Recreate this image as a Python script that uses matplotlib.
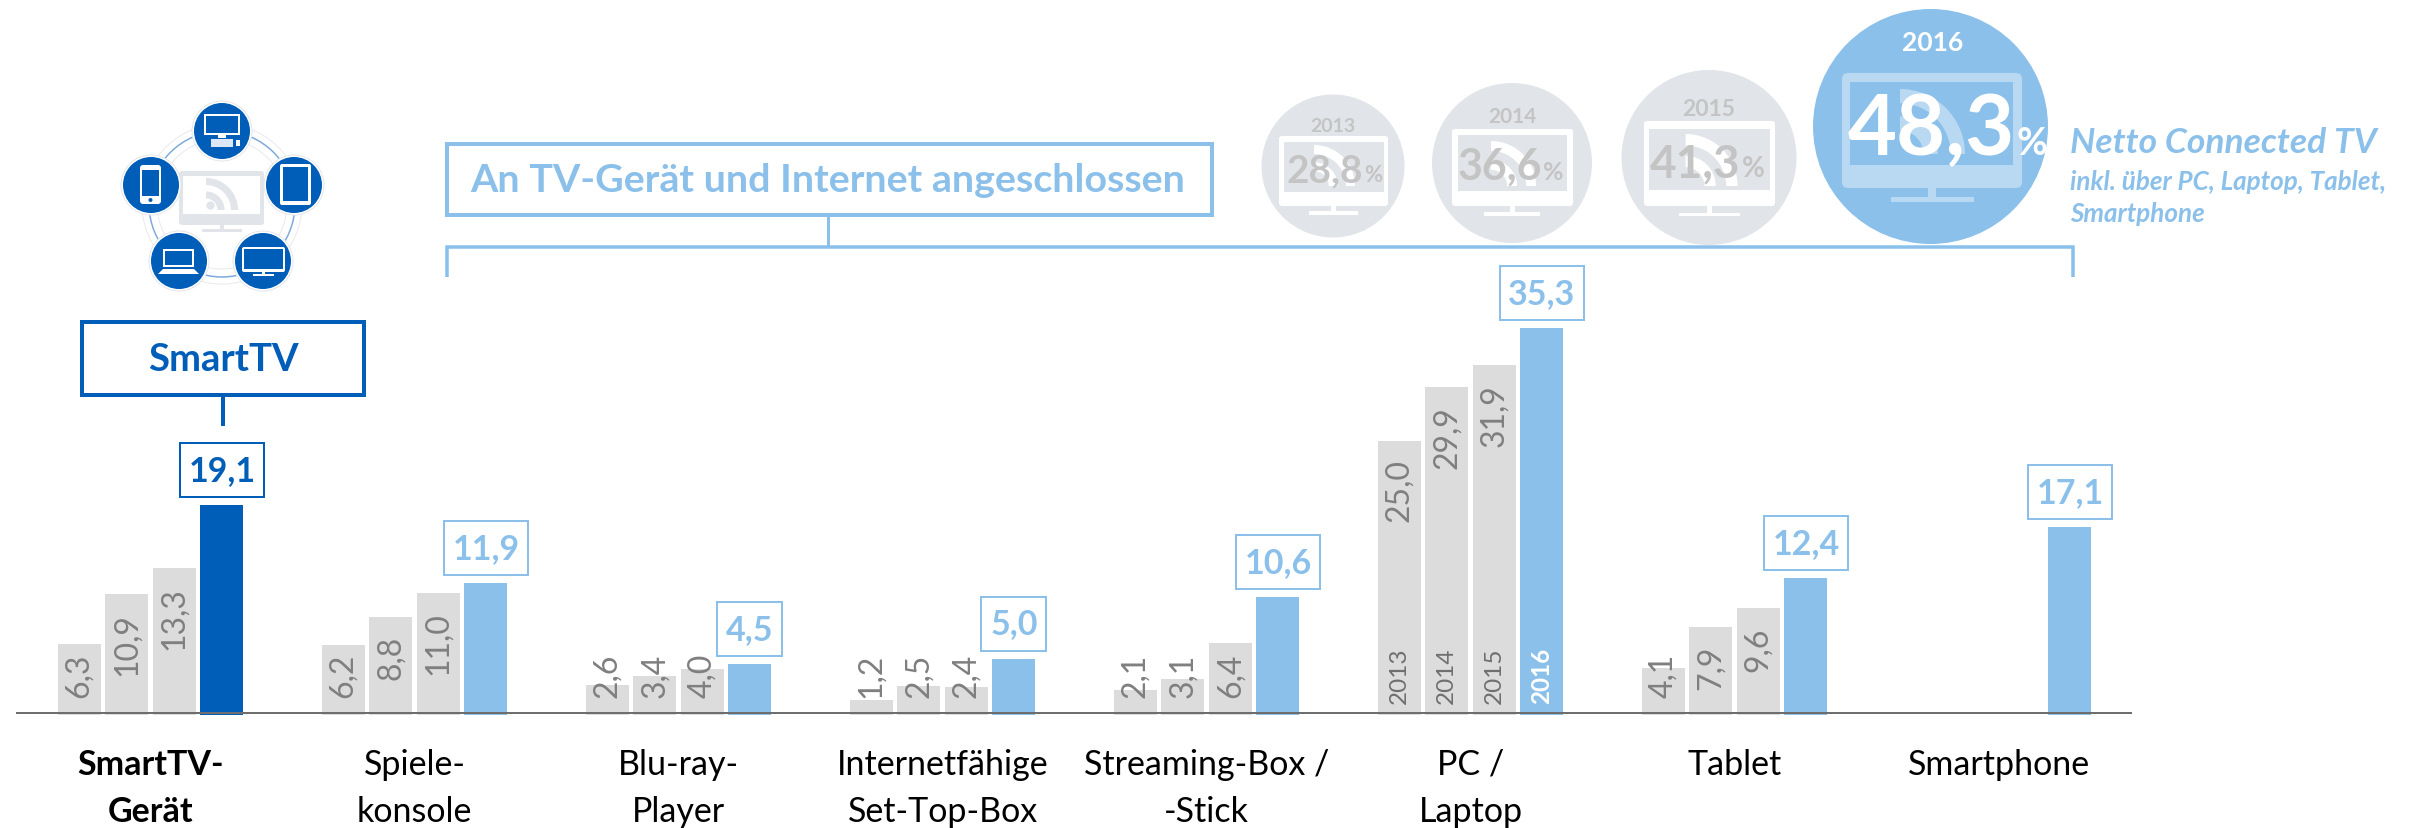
import numpy as np
import matplotlib
matplotlib.use("Agg")
import matplotlib.pyplot as plt
from matplotlib.patches import Rectangle, Circle, Wedge, FancyBboxPatch

plt.rcParams["font.family"] = ["Lato", "DejaVu Sans"]

categories = ["SmartTV-\nGerät", "Spiele-\nkonsole", "Blu-ray-\nPlayer",
              "Internetfähige\nSet-Top-Box", "Streaming-Box /\n-Stick",
              "PC /\nLaptop", "Tablet", "Smartphone"]
v2013 = [6.3, 6.2, 2.6, 1.2, 2.1, 25.0, 4.1, np.nan]
v2014 = [10.9, 8.8, 3.4, 2.5, 3.1, 29.9, 7.9, np.nan]
v2015 = [13.3, 11.0, 4.0, 2.4, 6.4, 31.9, 9.6, np.nan]
v2016 = [19.1, 11.9, 4.5, 5.0, 10.6, 35.3, 12.4, 17.1]
years = ["2013", "2014", "2015", "2016"]
net_years = ["2013", "2014", "2015", "2016"]
net_values = ["28,8", "36,6", "41,3", "48,3"]

DARK = "#005EB8"
LIGHT = "#8BC0EA"
PALE = "#B9D8F2"
GREY = "#DCDCDC"
CIRC = "#E1E4E8"
NUM = "#7F7F7F"
FADED = "#C4C4C4"

W, H = 2411, 829
BASE = 714
UNIT = 10.9  # pixels per percentage point
PT = 0.72  # linewidth for one pixel


def lw(px):
    return px * PT


def de(v):
    return f"{v:.1f}".replace(".", ",")


fig = plt.figure(figsize=(W / 100, H / 100), dpi=100)

# bars live on a value scale, x still in pixels
ax = fig.add_axes([0, 0, 1, 1])
ax.set_xlim(0, W)
ax.set_ylim(-(H - BASE) / UNIT, BASE / UNIT)
ax.axis("off")

# overlay in pixel coordinates for boxes and icons
ov = fig.add_axes([0, 0, 1, 1])
ov.set_xlim(0, W)
ov.set_ylim(H, 0)
ov.axis("off")
ov.patch.set_alpha(0)

x_center = 150.5 + 264 * np.arange(len(categories))
step = 47.6
bw = 43
pad = 2 / UNIT

series = [v2013, v2014, v2015]
for i, vals in enumerate(series):
    xs = x_center + (i - 1.5) * step
    heights = np.array(vals) + pad
    ax.bar(xs, heights, bw, bottom=-pad, color=GREY, linewidth=0)
    for x, v in zip(xs, vals):
        if np.isnan(v):
            continue
        s = de(v)
        length = 62 if len(s) == 4 else 44
        if v * UNIT - 18 - length >= 16:
            ax.text(x, v - 18 / UNIT, s, rotation=90, ha="center", va="top",
                    fontsize=23, color=NUM)
        else:
            ax.text(x, 16 / UNIT, s, rotation=90, ha="center", va="bottom",
                    fontsize=23, color=NUM)

xs16 = x_center + 1.5 * step
colors16 = [DARK] + [LIGHT] * 7
ax.bar(xs16, np.array(v2016) + pad, bw, bottom=-pad, color=colors16, linewidth=0)

for x, v, c in zip(xs16, v2016, colors16):
    s = de(v)
    bw_box = 84 if len(s) == 4 else 65
    ax.add_patch(Rectangle((x - bw_box / 2, v + 8 / UNIT), bw_box, 54 / UNIT,
                           facecolor="white", edgecolor=c, linewidth=lw(2)))
    ax.text(x, v + 35 / UNIT, s, ha="center", va="center", fontsize=24.5,
            fontweight="bold", color=c)

ax.plot([17, 2131], [0, 0], color="#6E6E6E", linewidth=lw(2), zorder=5)

# year labels inside the PC bars
pc = categories.index("PC /\nLaptop")
for i, yr in enumerate(years):
    x = x_center[pc] + (i - 1.5) * step
    ax.text(x, 10 / UNIT, yr, rotation=90, ha="center", va="bottom", fontsize=17.5,
            color="white" if yr == "2016" else "#6F6F6F",
            fontweight="bold" if yr == "2016" else "normal", zorder=6)

for i, (x, c) in enumerate(zip(x_center, categories)):
    for j, line in enumerate(c.split("\n")):
        ov.text(x, 765 + 47 * j, line, ha="center", va="center", fontsize=24.5,
                color="black", fontweight="bold" if i == 0 else "normal")

# SmartTV box
ov.add_patch(Rectangle((82, 323), 282, 73, fc="white", ec=DARK, lw=lw(4)))
ov.text(223, 360, "SmartTV", ha="center", va="center", fontsize=27.5,
        fontweight="bold", color=DARK)
ov.plot([223, 223], [396, 427], color=DARK, lw=lw(4), solid_capstyle="butt")

# connected TV box and bracket
ov.add_patch(Rectangle((447, 145), 765, 71, fc="white", ec=LIGHT, lw=lw(4)))
ov.text(828, 180, "An TV-Gerät und Internet angeschlossen", ha="center", va="center",
        fontsize=28.4, fontweight="bold", color=LIGHT)
ov.plot([828, 828], [216, 248], color=LIGHT, lw=lw(3), solid_capstyle="butt")
ov.plot([447, 447, 2073, 2073], [278, 248, 248, 278], color=LIGHT, lw=lw(3.5),
        solid_joinstyle="miter", solid_capstyle="butt")


def rss(a, x0, y0, r, color, z=3, dot=True):
    a.add_patch(Wedge((x0, y0), r, 270, 360, width=r * 0.22, fc=color, lw=0, zorder=z))
    a.add_patch(Wedge((x0, y0), r * 0.58, 270, 360, width=r * 0.22, fc=color, lw=0, zorder=z))
    if dot:
        a.add_patch(Circle((x0 + r * 0.14, y0 - r * 0.14), r * 0.13, fc=color, lw=0, zorder=z))


def rounded(a, x0, y0, x1, y1, color, z=2, rad=4):
    a.add_patch(FancyBboxPatch((x0 + rad, y0 + rad), x1 - x0 - 2 * rad, y1 - y0 - 2 * rad,
                               boxstyle=f"round,pad={rad},rounding_size={rad}",
                               fc=color, lw=0, zorder=z))


def box(a, x0, y0, x1, y1, color, z=3):
    a.add_patch(Rectangle((x0, y0), x1 - x0, y1 - y0, fc=color, lw=0, zorder=z))


# device ring icon
ov.add_patch(Circle((222, 205), 73, fc="none", ec="#7EA8DC", lw=lw(1.5), zorder=1))
ov.add_patch(Circle((222, 205), 80, fc="none", ec="#E8EAEE", lw=lw(1), zorder=1))
ov.add_patch(Circle((222, 205), 65, fc="none", ec="#E8EAEE", lw=lw(1), zorder=1))
rounded(ov, 179, 172, 264, 226, CIRC, rad=3)
box(ov, 183, 177, 260, 215, "white")
box(ov, 220, 226, 224, 231, CIRC)
box(ov, 202, 230, 242, 233, CIRC)
rss(ov, 206, 211, 32, CIRC, z=4)

device_x = [222, 151, 294, 179, 263]
device_y = [132, 186, 186, 262, 262]
for cx, cy in zip(device_x, device_y):
    ov.add_patch(Circle((cx, cy), 30, fc="white", ec="#E4E6EA", lw=lw(1), zorder=5))
    ov.add_patch(Circle((cx, cy), 28, fc=DARK, lw=0, zorder=6))

Z = 7
# desktop with keyboard
box(ov, 204, 115, 240, 136, "white", Z)
box(ov, 206, 117, 238, 134, DARK, Z)
box(ov, 218, 136, 226, 139, "white", Z)
box(ov, 211, 140, 233, 148, "#DCE8F6", Z)
box(ov, 236, 141, 240, 147, "white", Z)
# phone
rounded(ov, 140, 166, 161, 205, "white", Z, rad=3)
box(ov, 142, 171, 159, 197, DARK, Z)
ov.add_patch(Circle((150.5, 201), 2, fc=DARK, lw=0, zorder=Z))
# tablet
rounded(ov, 280, 165, 311, 206, "white", Z, rad=2)
box(ov, 283, 168, 308, 202, DARK, Z)
# laptop
box(ov, 163, 250, 194, 268, "white", Z)
box(ov, 165, 252, 192, 266, DARK, Z)
ov.fill([163, 194, 199, 158], [270, 270, 275, 275], color="white", lw=0, zorder=Z)
# flat TV
rounded(ov, 242, 248, 285, 273, "white", Z, rad=2)
box(ov, 244, 250, 283, 270, DARK, Z)
box(ov, 262, 273, 265, 275, "white", Z)
box(ov, 253, 275, 274, 276.5, "white", Z)

# yearly net discs: cx, cy, r, screen box, inner box, stand base, rss, fonts
disc_cx = [1333, 1512, 1709, 1930.5]
disc_cy = [167, 164, 158.5, 127.5]
disc_r = [71.5, 80, 87.5, 117.5]
disc_fc = [CIRC, CIRC, CIRC, LIGHT]
outer = [(1279, 137, 1388, 207), (1452, 130, 1573, 207), (1644, 122, 1775, 207), (1842, 74, 2022, 189)]
inner = [(1284, 143, 1384, 193), (1458, 136, 1567, 192), (1649, 130, 1770, 191), (1850, 83, 2013, 166)]
stand = [(1309, 212, 1358, 216), (1484.5, 213, 1540, 217), (1679.5, 214, 1740, 217), (1891, 198, 1974, 203)]
rss_pos = [(1314, 187, 41), (1491, 187, 45), (1685.6, 187, 52), (1900, 155, 65)]
year_y = [126, 117, 109, 43]
year_fs = [14, 15, 16.5, 19]
num_fs = [28, 31, 33, 61]
num_x = [1286.5, 1458, 1650, 1848]
num_base = [182, 180, 177, 155]
pct_fs = [16, 18, 20, 27]

for i in range(4):
    x0 = disc_cx[i]
    fg = PALE if i == 3 else "white"
    tc = "white" if i == 3 else FADED
    ov.add_patch(Circle((x0, disc_cy[i]), disc_r[i], fc=disc_fc[i], lw=0, zorder=1))
    rounded(ov, *outer[i], fg, rad=6 if i == 3 else 3)
    box(ov, *inner[i], disc_fc[i])
    sx0, sy0, sx1, sy1 = stand[i]
    box(ov, sx0, sy0, sx1, sy1, fg)
    sc = (sx0 + sx1) / 2
    sw = 4 if i == 3 else 2.5
    box(ov, sc - sw, outer[i][3], sc + sw, sy0, fg)
    rss(ov, *rss_pos[i], fg, z=4, dot=False)
    ov.text(x0 + (2.5 if i == 3 else 0), year_y[i], net_years[i], ha="center", va="center",
            fontsize=year_fs[i], fontweight="bold", color=tc, zorder=8)
    t = ov.text(num_x[i], num_base[i], net_values[i], ha="left", va="baseline",
                fontsize=num_fs[i], fontweight="bold", color=tc, zorder=8)
    fig.canvas.draw()
    ext = t.get_window_extent()
    ov.text(ext.x1 + 1, num_base[i], "%", ha="left", va="baseline",
            fontsize=pct_fs[i], fontweight="bold", color=tc, zorder=8)

ov.text(2070, 143, "Netto Connected TV", ha="left", va="center", fontsize=25.5,
        fontweight="bold", fontstyle="italic", color=LIGHT)
ov.text(2070, 182, "inkl. über PC, Laptop, Tablet,", ha="left", va="center", fontsize=18.7,
        fontweight="bold", fontstyle="italic", color=LIGHT)
ov.text(2070, 214, "Smartphone", ha="left", va="center", fontsize=18.7,
        fontweight="bold", fontstyle="italic", color=LIGHT)

fig.savefig("out.png", dpi=100)
